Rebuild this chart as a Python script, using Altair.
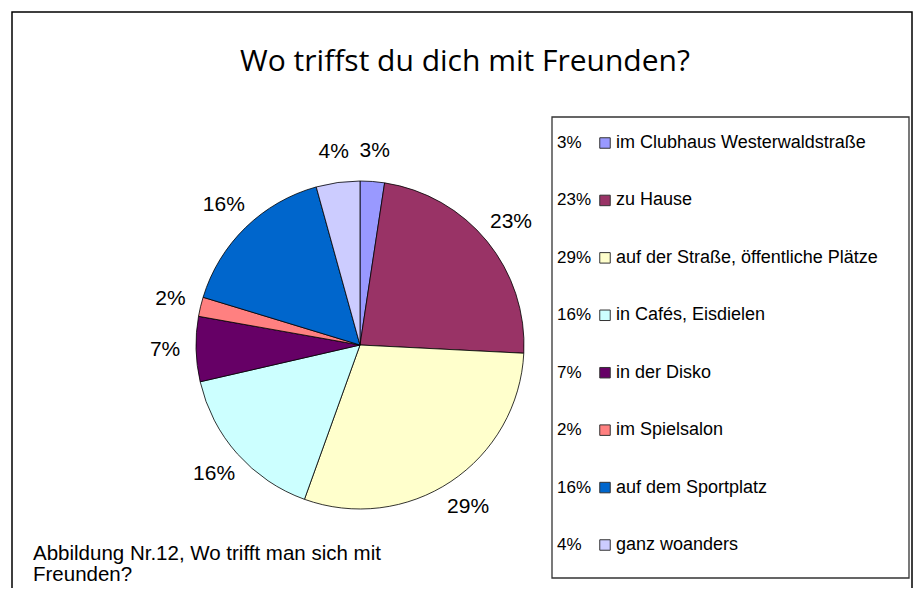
import altair as alt
import pandas as pd

# ---- data ----
categories = [
    "im Clubhaus Westerwaldstraße",
    "zu Hause",
    "auf der Straße, öffentliche Plätze",
    "in Cafés, Eisdielen",
    "in der Disko",
    "im  Spielsalon",
    "auf dem Sportplatz",
    "ganz woanders",
]
values = [2.4, 23.4, 29.7, 15.9, 6.4, 1.9, 16.0, 4.3]
pct_labels = ["3%", "23%", "29%", "16%", "7%", "2%", "16%", "4%"]
colors = ["#9999FF", "#993366", "#FFFFCC", "#CCFFFF", "#660066", "#FF8080", "#0066CC", "#CCCCFF"]

title_text = "Wo triffst du dich mit Freunden?"
caption_lines = ["Abbildung Nr.12, Wo trifft man sich mit", "Freunden?"]

df = pd.DataFrame({"cat": categories, "value": values, "pct": pct_labels, "idx": list(range(len(categories)))})

W, H = 905, 580
cx, cy, R = 352, 337, 164
FONT = "Liberation Sans"

color_scale = alt.Scale(domain=categories, range=colors)
theta = alt.Theta("value:Q", stack=True)
order = alt.Order("idx:Q")
base = alt.Chart(df)
one = alt.Chart(pd.DataFrame({"a": [0]}))

frame = one.mark_rect(fill="white", fillOpacity=0, stroke="black", strokeWidth=1.5).encode(
    x=alt.value(4), x2=alt.value(904), y=alt.value(4), y2=alt.value(620)
)
legend_box = one.mark_rect(fill="white", stroke="#333333", strokeWidth=1.3).encode(
    x=alt.value(544), x2=alt.value(901), y=alt.value(109), y2=alt.value(570)
)

pie = base.mark_arc(outerRadius=R, stroke="black", strokeWidth=0.8).encode(
    theta=theta, order=order,
    color=alt.Color("cat:N", scale=color_scale, legend=None),
    x=alt.value(cx), y=alt.value(cy),
)
pie_labels = base.mark_text(radius=195, fontSize=21, font=FONT, color="black").encode(
    theta=theta, order=order, text="pct:N", x=alt.value(cx), y=alt.value(cy)
)

yenc = alt.Y("cat:N", scale=alt.Scale(domain=categories, range=[135, 537], padding=0), axis=None)
leg_pct = base.mark_text(align="left", baseline="middle", fontSize=17, font=FONT, color="black").encode(
    x=alt.value(549), y=yenc, text="pct:N"
)
leg_sq = base.mark_square(size=110, stroke="#333333", strokeWidth=1, opacity=1).encode(
    x=alt.value(597), y=yenc, fill=alt.Fill("cat:N", scale=color_scale, legend=None)
)
leg_txt = base.mark_text(align="left", baseline="middle", fontSize=18, font=FONT, color="black").encode(
    x=alt.value(608), y=yenc, text="cat:N"
)

title = one.mark_text(align="center", baseline="middle", fontSize=30, font="Open Sans", color="black").encode(
    x=alt.value(457), y=alt.value(54), text=alt.value(title_text)
)
cap1 = one.mark_text(align="left", baseline="middle", fontSize=20.5, font=FONT, color="black").encode(
    x=alt.value(25), y=alt.value(546), text=alt.value(caption_lines[0])
)
cap2 = one.mark_text(align="left", baseline="middle", fontSize=20.5, font=FONT, color="black").encode(
    x=alt.value(25), y=alt.value(567), text=alt.value(caption_lines[1])
)

chart = alt.layer(frame, legend_box, pie, pie_labels, leg_pct, leg_sq, leg_txt, title, cap1, cap2).properties(
    width=W, height=H, background="white", padding=0, autosize=alt.AutoSizeParams(type="none")
).configure_view(stroke=None)

chart.save("out.html", embed_options={"renderer": "svg", "actions": False})
